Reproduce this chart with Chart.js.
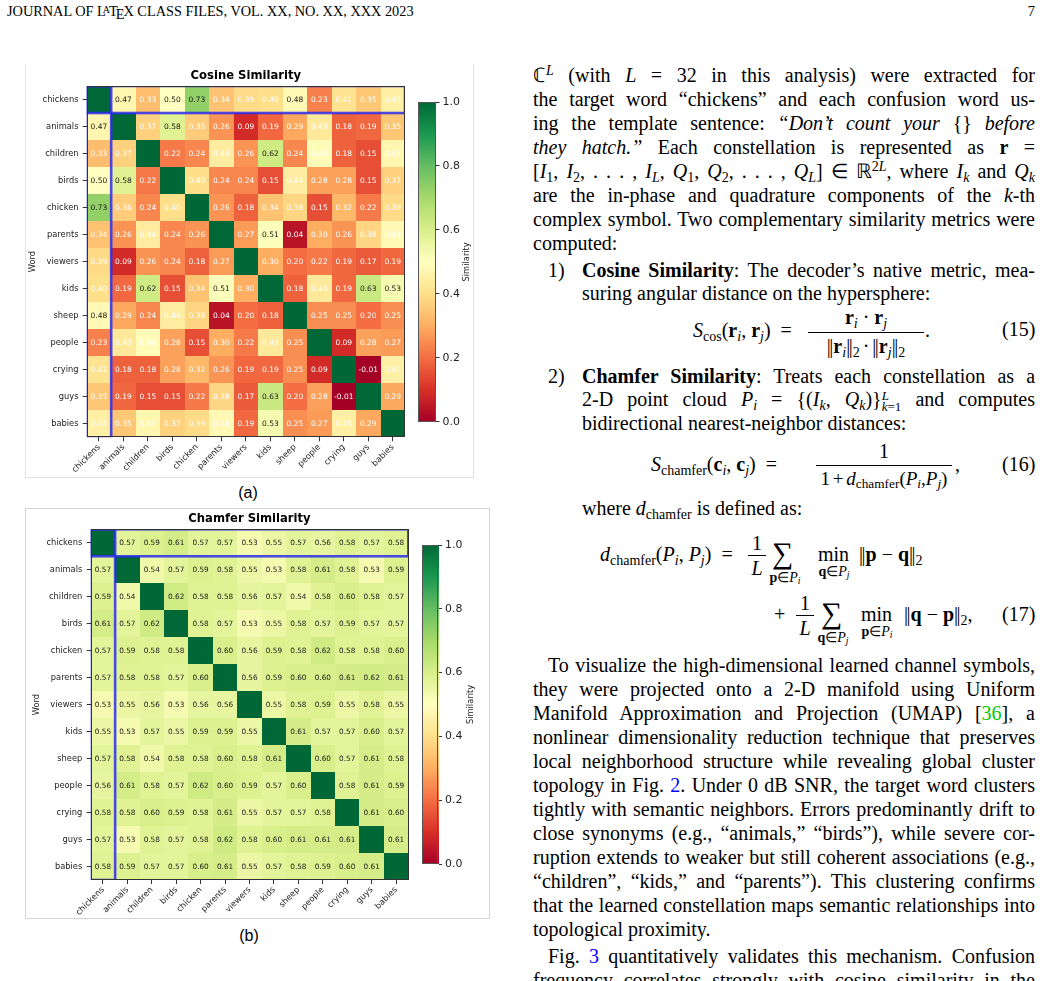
<!DOCTYPE html>
<html><head><meta charset="utf-8">
<script src="https://cdn.jsdelivr.net/npm/chart.js@4.4.1/dist/chart.umd.min.js"></script>
<style>
html,body{margin:0;padding:0;background:#fff;}
#page{position:relative;width:1042px;height:981px;overflow:hidden;font-family:'Liberation Serif','Times New Roman',serif;color:#000;}
.a{position:absolute;}
.l{position:absolute;font-size:20px;line-height:24px;white-space:nowrap;}
.j{text-align:justify;text-align-last:justify;white-space:normal;word-spacing:-3px;}
.c1{left:533px;width:502px;}
.c2{left:582px;width:453px;}
sub,sup{font-size:70%;line-height:0;}
sub{vertical-align:-0.25em;} sup{vertical-align:0.5em;}
.bl{color:#0000ff}.gr{color:#00cc00}
.eq{position:absolute;font-size:20px;line-height:24px;white-space:nowrap;}
.fr{position:absolute;text-align:center;font-size:20px;line-height:24px;white-space:nowrap;}
.sm{position:absolute;text-align:center;font-size:14px;line-height:14px;white-space:nowrap;}
.big{position:absolute;font-size:30px;line-height:30px;}
.bar{position:absolute;height:1px;background:#000;}
.stk{display:inline-block;vertical-align:-0.35em;line-height:11px;font-size:13px;text-align:left;}
.nb{letter-spacing:-1.5px;margin-right:1.5px;font-style:normal;font-weight:normal;}
.ts{word-spacing:-2px;}
canvas{position:absolute;}
.cap{position:absolute;font-family:'Liberation Sans',Arial,sans-serif;font-size:16px;line-height:18px;text-align:center;width:100px;}
</style></head>
<body><div id="page">

<div class="a" style="left:7px;top:3px;font-size:14.3px;line-height:17px;white-space:nowrap;">JOURNAL OF L<span style="font-size:10px;position:relative;top:-3px;margin-left:-3px;margin-right:-1px;">A</span>T<span style="position:relative;top:3px;margin-left:-2px;margin-right:-1px;">E</span>X CLASS FILES, VOL. XX, NO. XX, XXX 2023</div>
<div class="a" style="left:1000px;width:35px;top:3px;font-size:14.3px;line-height:17px;text-align:right;">7</div>

<!-- figure boxes -->
<div class="a" style="left:25px;top:64px;width:447px;height:413px;border-left:1px solid #e6e6e6;border-right:1px solid #e2e2e2;border-bottom:1px solid #e2e2e2;"></div>
<div class="a" style="left:25px;top:508px;width:463px;height:409px;border:1px solid #d4d4d4;"></div>

<canvas id="ha" width="400" height="412" style="left:25px;top:66px"></canvas>
<canvas id="ca" width="64" height="340" style="left:410px;top:92px"></canvas>
<canvas id="hb" width="400" height="408" style="left:26px;top:509px"></canvas>
<canvas id="cb" width="64" height="340" style="left:414px;top:535px"></canvas>

<div class="cap" style="left:198px;top:484px;">(a)</div>
<div class="cap" style="left:199px;top:927px;">(b)</div>

<!-- text column -->
<div class="l j c1" style="top:63px">ℂ<sup><i>L</i></sup> (with <i>L</i> = 32 in this analysis) were extracted for</div>
<div class="l j c1" style="top:87px">the target word “chickens” and each confusion word us-</div>
<div class="l j c1" style="top:111px">ing the template sentence: <i>“Don’t count your</i> {} <i>before</i></div>
<div class="l j c1" style="top:135px"><i>they hatch.”</i> Each constellation is represented as <b>r</b> =</div>
<div class="l j c1" style="top:159px">[<i>I</i><sub>1</sub>, <i>I</i><sub>2</sub>, . . . , <i>I<sub>L</sub></i>, <i>Q</i><sub>1</sub>, <i>Q</i><sub>2</sub>, . . . , <i>Q<sub>L</sub></i>] ∈ ℝ<sup>2<i>L</i></sup>, where <i>I<sub>k</sub></i> and <i>Q<sub>k</sub></i></div>
<div class="l j c1" style="top:183px">are the in-phase and quadrature components of the <i>k</i>-th</div>
<div class="l j c1" style="top:207px">complex symbol. Two complementary similarity metrics were</div>
<div class="l c1" style="top:231px">computed:</div>

<div class="l" style="left:548px;top:258px">1)</div>
<div class="l j c2" style="top:258px"><b>Cosine Similarity</b>: The decoder’s native metric, mea-</div>
<div class="l c2" style="top:281px">suring angular distance on the hypersphere:</div>

<div class="eq" style="left:693px;top:318px"><i>S</i><sub>cos</sub>(<b>r</b><sub><i>i</i></sub>, <b>r</b><sub><i>j</i></sub>) &nbsp;=</div>
<div class="fr" style="left:808px;width:116px;top:305px"><b>r</b><sub><i>i</i></sub> · <b>r</b><sub><i>j</i></sub></div>
<div class="bar" style="left:808px;width:116px;top:332px"></div>
<div class="fr ts" style="left:808px;width:116px;top:334px"><span class="nb">||</span><b>r</b><sub><i>i</i></sub><span class="nb">||</span><sub>2</sub> · <span class="nb">||</span><b>r</b><sub><i>j</i></sub><span class="nb">||</span><sub>2</sub></div>
<div class="eq" style="left:925px;top:318px">.</div>
<div class="eq" style="left:1002px;top:317px">(15)</div>

<div class="l" style="left:548px;top:364px">2)</div>
<div class="l j c2" style="top:364px"><b>Chamfer Similarity</b>: Treats each constellation as a</div>
<div class="l j c2" style="top:387px">2-D point cloud <i>P</i><sub><i>i</i></sub> = {(<i>I<sub>k</sub></i>, <i>Q<sub>k</sub></i>)}<span class="stk"><i>L</i><br><i>k</i>=1</span> and computes</div>
<div class="l c2" style="top:411px">bidirectional nearest-neighbor distances:</div>

<div class="eq" style="left:651px;top:452px"><i>S</i><sub>chamfer</sub>(<b>c</b><sub><i>i</i></sub>, <b>c</b><sub><i>j</i></sub>) &nbsp;=</div>
<div class="fr" style="left:816px;width:136px;top:439px">1</div>
<div class="bar" style="left:816px;width:136px;top:465px"></div>
<div class="fr ts" style="left:816px;width:136px;top:467px;font-size:19px;">1 + <i>d</i><sub>chamfer</sub>(<i>P<sub>i</sub></i>,<i>P<sub>j</sub></i>)</div>
<div class="eq" style="left:955px;top:452px">,</div>
<div class="eq" style="left:1002px;top:452px">(16)</div>

<div class="l c2" style="top:496px">where <i>d</i><sub>chamfer</sub> is defined as:</div>

<div class="eq" style="left:600px;top:542px"><i>d</i><sub>chamfer</sub>(<i>P<sub>i</sub></i>, <i>P<sub>j</sub></i>) &nbsp;=</div>
<div class="fr" style="left:748px;width:18px;top:531px">1</div>
<div class="bar" style="left:748px;width:18px;top:555px"></div>
<div class="fr" style="left:748px;width:18px;top:556px"><i>L</i></div>
<div class="big" style="left:772px;top:538px">∑</div>
<div class="sm" style="left:760px;width:50px;top:571px"><b>p</b>∈<i>P<sub>i</sub></i></div>
<div class="eq" style="left:818px;top:542px">min</div>
<div class="sm" style="left:812px;width:44px;top:565px"><b>q</b>∈<i>P<sub>j</sub></i></div>
<div class="eq" style="left:859px;top:542px"><span class="nb">||</span><b>p</b> − <b>q</b><span class="nb">||</span><sub>2</sub></div>

<div class="eq" style="left:774px;top:602px">+</div>
<div class="fr" style="left:796px;width:18px;top:591px">1</div>
<div class="bar" style="left:796px;width:18px;top:615px"></div>
<div class="fr" style="left:796px;width:18px;top:616px"><i>L</i></div>
<div class="big" style="left:821px;top:598px">∑</div>
<div class="sm" style="left:808px;width:50px;top:631px"><b>q</b>∈<i>P<sub>j</sub></i></div>
<div class="eq" style="left:861px;top:602px">min</div>
<div class="sm" style="left:855px;width:44px;top:625px"><b>p</b>∈<i>P<sub>i</sub></i></div>
<div class="eq" style="left:904px;top:602px"><span class="nb">||</span><b>q</b> − <b>p</b><span class="nb">||</span><sub>2</sub>,</div>
<div class="eq" style="left:1002px;top:602px">(17)</div>

<div class="l j c1" style="top:653px;text-indent:15px">To visualize the high-dimensional learned channel symbols,</div>
<div class="l j c1" style="top:677px">they were projected onto a 2-D manifold using Uniform</div>
<div class="l j c1" style="top:701px">Manifold Approximation and Projection (UMAP) [<span class="gr">36</span>], a</div>
<div class="l j c1" style="top:725px">nonlinear dimensionality reduction technique that preserves</div>
<div class="l j c1" style="top:749px">local neighborhood structure while revealing global cluster</div>
<div class="l j c1" style="top:773px">topology in Fig. <span class="bl">2</span>. Under 0 dB SNR, the target word clusters</div>
<div class="l j c1" style="top:797px">tightly with semantic neighbors. Errors predominantly drift to</div>
<div class="l j c1" style="top:821px">close synonyms (e.g., “animals,” “birds”), while severe cor-</div>
<div class="l j c1" style="top:845px">ruption extends to weaker but still coherent associations (e.g.,</div>
<div class="l j c1" style="top:869px">“children”, “kids,” and “parents”). This clustering confirms</div>
<div class="l j c1" style="top:893px">that the learned constellation maps semantic relationships into</div>
<div class="l c1" style="top:917px">topological proximity.</div>
<div class="l j c1" style="top:944px;text-indent:15px">Fig. <span class="bl">3</span> quantitatively validates this mechanism. Confusion</div>
<div class="l j c1" style="top:968px">frequency correlates strongly with cosine similarity in the</div>

</div>
<script>
const words = ['chickens','animals','children','birds','chicken','parents','viewers','kids','sheep','people','crying','guys','babies'];

const cosineRows = [
  [1.00,0.47,0.33,0.50,0.73,0.34,0.39,0.40,0.48,0.23,0.41,0.35,0.45],
  [0.47,1.00,0.37,0.58,0.36,0.26,0.09,0.19,0.29,0.43,0.18,0.19,0.35],
  [0.33,0.37,1.00,0.22,0.24,0.44,0.26,0.62,0.24,0.49,0.18,0.15,0.47],
  [0.50,0.58,0.22,1.00,0.40,0.24,0.24,0.15,0.44,0.28,0.28,0.15,0.37],
  [0.73,0.36,0.24,0.40,1.00,0.26,0.18,0.34,0.38,0.15,0.32,0.22,0.39],
  [0.34,0.26,0.44,0.24,0.26,1.00,0.27,0.51,0.04,0.30,0.26,0.38,0.48],
  [0.39,0.09,0.26,0.24,0.18,0.27,1.00,0.30,0.20,0.22,0.19,0.17,0.19],
  [0.40,0.19,0.62,0.15,0.34,0.51,0.30,1.00,0.18,0.43,0.19,0.63,0.53],
  [0.48,0.29,0.24,0.44,0.38,0.04,0.20,0.18,1.00,0.25,0.25,0.20,0.25],
  [0.23,0.43,0.49,0.28,0.15,0.30,0.22,0.43,0.25,1.00,0.09,0.28,0.27],
  [0.41,0.18,0.18,0.28,0.32,0.26,0.19,0.19,0.25,0.09,1.00,-0.01,0.45],
  [0.35,0.19,0.15,0.15,0.22,0.38,0.17,0.63,0.20,0.28,-0.01,1.00,0.29],
  [0.45,0.35,0.47,0.37,0.39,0.48,0.19,0.53,0.25,0.27,0.45,0.29,1.00]
];

const chamferRows = [
  [1.00,0.57,0.59,0.61,0.57,0.57,0.53,0.55,0.57,0.56,0.58,0.57,0.58],
  [0.57,1.00,0.54,0.57,0.59,0.58,0.55,0.53,0.58,0.61,0.58,0.53,0.59],
  [0.59,0.54,1.00,0.62,0.58,0.58,0.56,0.57,0.54,0.58,0.60,0.58,0.57],
  [0.61,0.57,0.62,1.00,0.58,0.57,0.53,0.55,0.58,0.57,0.59,0.57,0.57],
  [0.57,0.59,0.58,0.58,1.00,0.60,0.56,0.59,0.58,0.62,0.58,0.58,0.60],
  [0.57,0.58,0.58,0.57,0.60,1.00,0.56,0.59,0.60,0.60,0.61,0.62,0.61],
  [0.53,0.55,0.56,0.53,0.56,0.56,1.00,0.55,0.58,0.59,0.55,0.58,0.55],
  [0.55,0.53,0.57,0.55,0.59,0.59,0.55,1.00,0.61,0.57,0.57,0.60,0.57],
  [0.57,0.58,0.54,0.58,0.58,0.60,0.58,0.61,1.00,0.60,0.57,0.61,0.58],
  [0.56,0.61,0.58,0.57,0.62,0.60,0.59,0.57,0.60,1.00,0.58,0.61,0.59],
  [0.58,0.58,0.60,0.59,0.58,0.61,0.55,0.57,0.57,0.58,1.00,0.61,0.60],
  [0.57,0.53,0.58,0.57,0.58,0.62,0.58,0.60,0.61,0.61,0.61,1.00,0.61],
  [0.58,0.59,0.57,0.57,0.60,0.61,0.55,0.57,0.58,0.59,0.60,0.61,1.00]
];

const colorbarMin = 0, colorbarMax = 1;
const targetWord = 'chickens';

const RdYlGn = ['#a50026','#d73027','#f46d43','#fdae61','#fee08b','#ffffbf','#d9ef8b','#a6d96a','#66bd63','#1a9850','#006837'];
function hexRgb(h){return [parseInt(h.slice(1,3),16),parseInt(h.slice(3,5),16),parseInt(h.slice(5,7),16)];}
function cmap(v){
  v=(v-colorbarMin)/(colorbarMax-colorbarMin);
  v=Math.max(0,Math.min(1,v));
  const p=v*(RdYlGn.length-1); const i=Math.min(RdYlGn.length-2,Math.floor(p)); const t=p-i;
  const a=hexRgb(RdYlGn[i]), b=hexRgb(RdYlGn[i+1]);
  return 'rgb('+a.map((c,k)=>Math.round(c+(b[k]-c)*t)).join(',')+')';
}

Chart.defaults.font.family = "'DejaVu Sans', sans-serif";
Chart.defaults.color = '#222';

const cellPlugin = {
  id:'cells',
  beforeDatasetsDraw(chart, args, o){
    const {ctx, scales:{x,y}} = chart;
    const meta = chart.getDatasetMeta(0);
    const pts = chart.data.datasets[0].data;
    const w = x.width / x.ticks.length, h = y.height / y.ticks.length;
    ctx.save();
    meta.data.forEach((el,k)=>{
      const x0=Math.round(el.x-w/2), x1=Math.round(el.x+w/2), y0=Math.round(el.y-h/2), y1=Math.round(el.y+h/2);
      ctx.fillStyle = cmap(pts[k].v);
      ctx.fillRect(x0,y0,x1-x0,y1-y0);
    });
    ctx.restore();
  },
  afterDatasetsDraw(chart, args, o){
    const {ctx, chartArea:a, scales:{x,y}} = chart;
    const meta = chart.getDatasetMeta(0);
    const pts = chart.data.datasets[0].data;
    const w = x.width / x.ticks.length, h = y.height / y.ticks.length;
    ctx.save();
    ctx.font = o.annotSize + "px 'DejaVu Sans'";
    ctx.textAlign='center'; ctx.textBaseline='middle';
    meta.data.forEach((el,k)=>{
      const p = pts[k];
      if (p.x === p.y) return;
      const hl = (p.x===targetWord || p.y===targetWord);
      const dark = p.v >= 0.5 || (hl && p.v >= 0.46);
      ctx.fillStyle = dark ? '#1a1a1a' : '#ffffff';
      ctx.fillText(p.v.toFixed(2), el.x, el.y+0.5);
    });
    // highlight rectangles
    ctx.save();
    ctx.beginPath(); ctx.rect(a.left,a.top,a.right-a.left,a.bottom-a.top); ctx.clip();
    ctx.strokeStyle='rgba(45,45,235,0.85)'; ctx.lineWidth=2.6;
    const cx = x.getPixelForValue(words.indexOf(targetWord));
    const cy = y.getPixelForValue(words.indexOf(targetWord));
    ctx.strokeRect(a.left, cy-h/2, a.right-a.left, h);
    ctx.strokeRect(cx-w/2, a.top, w, a.bottom-a.top);
    ctx.restore();
    // frame
    ctx.strokeStyle='#333'; ctx.lineWidth=1;
    ctx.strokeRect(Math.round(a.left)+0.5, Math.round(a.top)+0.5, Math.round(a.right-a.left)-1, Math.round(a.bottom-a.top)-1);
    // title
    ctx.fillStyle='#000'; ctx.font="bold 11.6px 'DejaVu Sans'"; ctx.textAlign='center'; ctx.textBaseline='middle';
    ctx.fillText(o.title, (a.left+a.right)/2, a.top - o.titleOffset);
    ctx.restore();
  }
};

function makeHeatmap(id, rows, title, g){
  const points = [];
  rows.forEach((row,i)=>row.forEach((v,j)=>points.push({x:words[j], y:words[i], v:v})));
  const tickFont = {family:"'DejaVu Sans'", size:8.3};
  return new Chart(document.getElementById(id), {
    type:'scatter',
    data:{datasets:[{data:points, pointRadius:0, pointHoverRadius:0}]},
    options:{
      responsive:false, animation:false, events:[], devicePixelRatio:1,
      layout:{padding:{left:0, right:g.padRight, top:g.padTop, bottom:0}},
      plugins:{legend:{display:false}, tooltip:{enabled:false},
        cells:{title:title, titleOffset:g.titleOffset, annotSize:g.annot}},
      scales:{
        x:{type:'category', labels:words, offset:true,
           grid:{display:true, drawOnChartArea:false, offset:false, tickLength:4, color:'#333'},
           border:{display:false},
           ticks:{autoSkip:false, minRotation:45, maxRotation:45, font:tickFont, color:'#222', padding:1},
           afterFit:(s)=>{s.height=g.xH;}},
        y:{type:'category', labels:words, offset:true,
           grid:{display:true, drawOnChartArea:false, offset:false, tickLength:4, color:'#333'},
           border:{display:false},
           ticks:{autoSkip:false, font:tickFont, color:'#222', padding:g.yPad},
           title:{display:true, text:'Word', font:tickFont, color:'#222', padding:{top:g.wordPad, bottom:0}},
           afterFit:(s)=>{s.width=g.yW;}}
      }
    },
    plugins:[cellPlugin]
  });
}

const cbPlugin = {
  id:'cbar',
  beforeDraw(chart, args, o){
    const {ctx, chartArea:a, scales:{y}} = chart;
    ctx.save();
    const t=Math.round(a.top), b=Math.round(a.bottom), l=Math.round(a.left), r=Math.round(a.right);
    for(let py=t; py<b; py++){
      ctx.fillStyle = cmap(y.getValueForPixel(py+0.5));
      ctx.fillRect(l, py, r-l, 1);
    }
    ctx.restore();
  },
  afterDraw(chart, args, o){
    const {ctx, chartArea:a} = chart;
    ctx.save();
    ctx.strokeStyle='#555'; ctx.lineWidth=1;
    ctx.strokeRect(Math.round(a.left)+0.5, Math.round(a.top)+0.5, Math.round(a.right-a.left)-1, Math.round(a.bottom-a.top)-1);
    ctx.translate(o.labelX, (a.top+a.bottom)/2); ctx.rotate(-Math.PI/2);
    ctx.font="8.3px 'DejaVu Sans'"; ctx.fillStyle='#222'; ctx.textAlign='center'; ctx.textBaseline='middle';
    ctx.fillText('Similarity',0,0);
    ctx.restore();
  }
};

function makeColorbar(id, g){
  return new Chart(document.getElementById(id), {
    type:'scatter',
    data:{datasets:[{data:[]}]},
    options:{
      responsive:false, animation:false, events:[], devicePixelRatio:1,
      layout:{padding:{left:g.left, right:0, top:g.top, bottom:g.bottom}},
      plugins:{legend:{display:false}, tooltip:{enabled:false}, cbar:{labelX:g.labelX}},
      scales:{
        x:{display:false, min:0, max:1},
        y:{position:'right', min:colorbarMin, max:colorbarMax,
           grid:{display:true, drawOnChartArea:false, tickLength:3.5, color:'#333'},
           border:{display:false},
           ticks:{stepSize:0.2, padding:3, font:{family:"'DejaVu Sans'", size:10.9}, color:'#222', callback:(v)=>Number(v).toFixed(1)},
           afterFit:(s)=>{s.width=g.w;}}
      }
    },
    plugins:[cbPlugin]
  });
}

makeHeatmap('ha', cosineRows, 'Cosine Similarity', {padRight:20, padTop:20, xH:40.7, yW:61.7, yPad:4.2, wordPad:2.7, titleOffset:10.3, annot:7.5});
makeHeatmap('hb', chamferRows, 'Chamfer Similarity', {padRight:17.7, padTop:20.3, xH:37, yW:64.7, yPad:4.4, wordPad:6, titleOffset:10.3, annot:7.3});
makeColorbar('ca', {left:8, top:10, bottom:10.3, w:38, labelX:56.7});
makeColorbar('cb', {left:8.3, top:10, bottom:11, w:39.5, labelX:56.7});
</script>
</body></html>
